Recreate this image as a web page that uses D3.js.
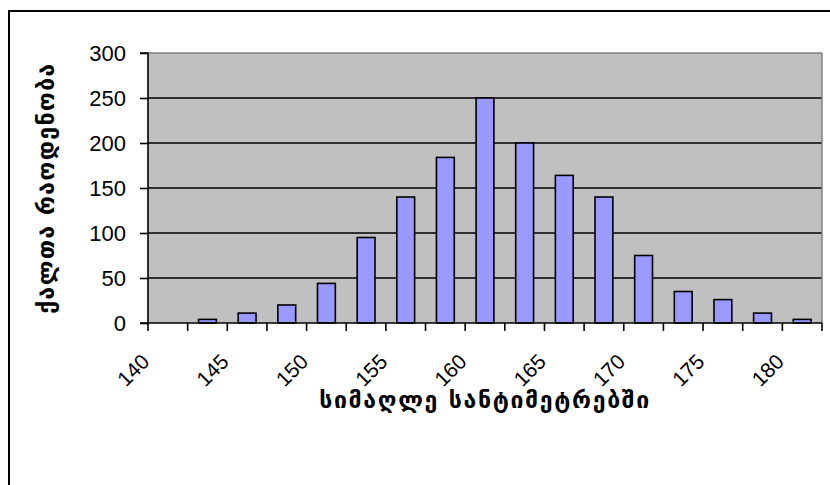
<!DOCTYPE html>
<html>
<head>
<meta charset="utf-8">
<script src="https://cdn.jsdelivr.net/npm/d3@7"></script>
<style>
  body { margin: 0; background: #fff; }
  svg { display: block; }
</style>
</head>
<body>
<svg width="830" height="485"></svg>
<script>
const svg = d3.select('svg');

// heights in cm (bin starts), every second one gets a label
const heights = ['140', '142.5', '145', '147.5', '150', '152.5', '155', '157.5', '160',
  '162.5', '165', '167.5', '170', '172.5', '175', '177.5', '180'];
const counts = [0, 4, 11, 20, 44, 95, 140, 184, 250, 200, 164, 140, 75, 35, 26, 11, 4];
const xTickLabels = ['140', '145', '150', '155', '160', '165', '170', '175', '180'];
const yTicks = [0, 50, 100, 150, 200, 250, 300];

const xTitle = 'სიმაღლე სანტიმეტრებში';
const yTitle = 'ქალთა რაოდენობა';

const margin = { top: 53, left: 148, right: 8, bottom: 162 };
const innerWidth = 830 - margin.left - margin.right;
const innerHeight = 485 - margin.top - margin.bottom;

// outer chart frame
svg.append('rect')
  .attr('x', 9).attr('y', 11)
  .attr('width', 840).attr('height', 500)
  .attr('fill', 'none')
  .attr('stroke', '#000')
  .attr('stroke-width', 2);

const xScale = d3.scaleBand()
  .domain(heights)
  .range([0, innerWidth]);

const yScale = d3.scaleLinear()
  .domain([0, 300])
  .range([innerHeight, 0]);

const g = svg.append('g')
  .attr('transform', `translate(${margin.left},${margin.top})`);

g.append('rect')
  .attr('width', innerWidth)
  .attr('height', innerHeight)
  .attr('fill', '#c0c0c0');

// gridlines
g.selectAll('.grid').data(yTicks.slice(1))
  .enter().append('line')
    .attr('x1', 0).attr('x2', innerWidth)
    .attr('y1', d => yScale(d)).attr('y2', d => yScale(d))
    .attr('stroke', d => d === 300 ? '#808080' : '#000')
    .attr('stroke-width', d => d === 300 ? 1.5 : 1.6);

g.append('line')
  .attr('x1', innerWidth).attr('x2', innerWidth)
  .attr('y1', 0).attr('y2', innerHeight)
  .attr('stroke', '#808080')
  .attr('stroke-width', 1.5);

// bars
const barW = xScale.bandwidth() * 0.45;
g.selectAll('.bar').data(counts)
  .enter().append('rect')
    .attr('x', (d, i) => xScale(heights[i]) + (xScale.bandwidth() - barW) / 2)
    .attr('y', d => yScale(d))
    .attr('width', barW)
    .attr('height', d => innerHeight - yScale(d))
    .attr('fill', '#9999ff')
    .attr('stroke', d => d > 0 ? '#000' : 'none')
    .attr('stroke-width', 1.6);

// y axis
const yAxis = d3.axisLeft(yScale)
  .tickValues(yTicks)
  .tickSize(8)
  .tickPadding(14);

const yG = g.append('g').call(yAxis);
yG.selectAll('line, path').attr('stroke', '#000').attr('stroke-width', 1.6);
yG.select('.domain').attr('d', `M-8,0H0V${innerHeight}H-8`);
yG.selectAll('text')
  .attr('font-family', 'Liberation Sans, Arial, sans-serif')
  .attr('font-size', 22)
  .attr('fill', '#000');

// x axis: ticks at category boundaries
const xG = g.append('g').attr('transform', `translate(0,${innerHeight})`);
const boundaries = d3.range(heights.length + 1).map(i => i * xScale.step());
xG.append('line')
  .attr('x1', 0).attr('x2', innerWidth)
  .attr('stroke', '#000').attr('stroke-width', 1.6);
xG.selectAll('.tick').data(boundaries)
  .enter().append('line')
    .attr('x1', d => d).attr('x2', d => d)
    .attr('y1', 0).attr('y2', 8)
    .attr('stroke', '#000').attr('stroke-width', 1.6);

xG.selectAll('.lbl').data(xTickLabels)
  .enter().append('text')
    .attr('transform', (d, i) => {
      const cx = xScale(heights[i * 2]) + xScale.bandwidth() / 2 - 17;
      return `translate(${cx},40) rotate(-45)`;
    })
    .attr('text-anchor', 'end')
    .attr('font-family', 'Liberation Sans, Arial, sans-serif')
    .attr('font-size', 21)
    .text(d => d);

// axis titles, spread out to the width they take in the original
const spread = (sel, target) => {
  const n = sel.text().length;
  const w = sel.node().getComputedTextLength();
  sel.attr('letter-spacing', Math.max(0, (target - w) / (n - 1)));
};

const xt = svg.append('text')
  .attr('x', margin.left + innerWidth / 2)
  .attr('y', 408)
  .attr('text-anchor', 'middle')
  .attr('font-family', 'DejaVu Sans, sans-serif')
  .attr('font-weight', 'bold')
  .attr('font-size', 23)
  .text(xTitle);
spread(xt, 330);

const yt = svg.append('text')
  .attr('transform', `translate(54,${margin.top + innerHeight / 2}) rotate(-90)`)
  .attr('text-anchor', 'middle')
  .attr('font-family', 'DejaVu Sans, sans-serif')
  .attr('font-weight', 'bold')
  .attr('font-size', 23)
  .text(yTitle);
spread(yt, 250);
</script>
</body>
</html>
